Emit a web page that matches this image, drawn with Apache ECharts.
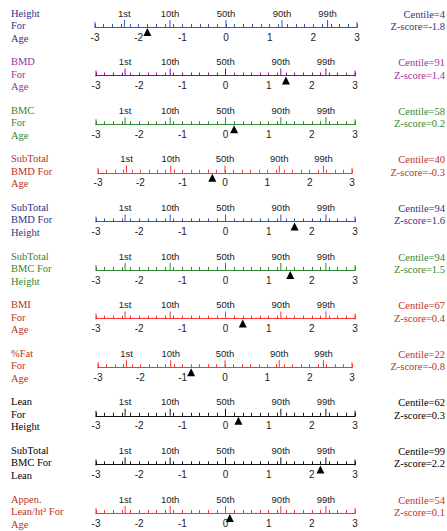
<!DOCTYPE html>
<html>
<head>
<meta charset="utf-8">
<script src="https://cdn.jsdelivr.net/npm/echarts@6/dist/echarts.min.js"></script>
<style>html,body{margin:0;padding:0;background:#fff}#c{width:447px;height:531px}</style>
</head>
<body>
<div id="c"></div>
<script>
// ---- data ----
const rowLabels = [
  'Height\nFor\nAge', 'BMD\nFor\nAge', 'BMC\nFor\nAge', 'SubTotal\nBMD For\nAge',
  'SubTotal\nBMD For\nHeight', 'SubTotal\nBMC For\nHeight', 'BMI\nFor\nAge', '%Fat\nFor\nAge',
  'Lean\nFor\nHeight', 'SubTotal\nBMC For\nLean', 'Appen.\nLean/ht\u00b2 For\nAge'
];
const centiles = [4, 91, 58, 40, 94, 94, 67, 22, 62, 99, 54];
const zScores = [-1.8, 1.4, 0.2, -0.3, 1.6, 1.5, 0.4, -0.8, 0.3, 2.2, 0.1];
const centileNames = ['1st', '10th', '50th', '90th', '99th'];
const centileZ = [-2.326, -1.282, 0, 1.282, 2.326];
const zMin = -3, zMax = 3, zStep = 1, zMinorStep = 0.2;
const endTicks = [-3, 3];

// ---- styles / layout ----
const BLUE = {axis: '#3355bb', text: '#333388'};
const PURPLE = {axis: '#990099', text: '#993399'};
const GREEN = {axis: '#338833', text: '#338833'};
const RED = {axis: '#ff3333', text: '#bb3322'};
const BLACK = {axis: '#111111', text: '#000000'};
const rowStyles = [BLUE, PURPLE, GREEN, RED, BLUE, GREEN, RED, RED, BLACK, BLACK, RED];
const rowInsets = [[95, 90], [96, 92], [96, 92], [98, 95], [96, 92], [96, 92], [96, 92], [98, 95], [96, 92], [96, 92], [96, 92]];
const firstAxisY = 27, rowGap = 48.6;

const grids = [], xAxes = [], yAxes = [], series = [], graphics = [];
rowLabels.forEach((lab, i) => {
  const y = firstAxisY + i * rowGap;
  const st = rowStyles[i];
  grids.push({left: rowInsets[i][0], right: rowInsets[i][1], top: y - 20, height: 20});
  // axis line with fine ticks
  xAxes.push({
    gridIndex: i, type: 'value', position: 'bottom', min: zMin, max: zMax, interval: zMinorStep,
    axisLine: {show: true, lineStyle: {color: st.axis, width: 1}},
    axisTick: {show: true, inside: true, length: 3, lineStyle: {color: st.axis}},
    axisLabel: {show: false}, splitLine: {show: false}
  });
  // axis carrying the z labels
  xAxes.push({
    gridIndex: i, type: 'value', position: 'bottom', min: zMin, max: zMax, interval: zStep,
    axisLine: {show: false}, axisTick: {show: false},
    axisLabel: {fontSize: 10, color: '#222', margin: 5, fontFamily: 'Liberation Sans'},
    splitLine: {show: false}
  });
  yAxes.push({gridIndex: i, type: 'value', min: 0, max: 1, show: false});
  const xi = 2 * i + 1;
  series.push({
    type: 'scatter', xAxisIndex: xi, yAxisIndex: i, clip: false, silent: true,
    symbol: 'rect', symbolSize: [1, 7], symbolOffset: [0, -3.5],
    itemStyle: {color: st.axis, opacity: 1},
    data: centileZ.map((z, k) => ({value: [z, 0], name: centileNames[k]})),
    label: {show: true, position: 'top', distance: 2, formatter: p => p.name,
            fontSize: 9.5, color: '#222', fontFamily: 'Liberation Sans'}
  });
  series.push({
    type: 'scatter', xAxisIndex: xi, yAxisIndex: i, clip: false, silent: true,
    symbol: 'rect', symbolSize: [1, 6], symbolOffset: [0, -2],
    itemStyle: {color: st.axis, opacity: 1},
    data: endTicks.map(z => [z, 0])
  });
  series.push({
    type: 'scatter', xAxisIndex: xi, yAxisIndex: i, clip: false, silent: true,
    symbol: 'triangle', symbolSize: [8, 8], symbolOffset: [0, 5],
    itemStyle: {color: '#000', opacity: 1}, z: 5,
    data: [[zScores[i], 0]]
  });
  graphics.push({
    type: 'text', left: 11, top: y - 20.25,
    style: {text: lab, fill: st.text, font: '10.5px "Liberation Serif"', lineHeight: 12.5}
  });
  graphics.push({
    type: 'text', right: 2, top: y - 19.25,
    style: {text: 'Centile=' + centiles[i] + '\nZ-score=' + zScores[i], fill: st.text,
            font: '10.5px "Liberation Serif"', lineHeight: 12.5, textAlign: 'right'}
  });
});

const chart = echarts.init(document.getElementById('c'), null, {renderer: 'svg'});
chart.setOption({
  animation: false,
  grid: grids, xAxis: xAxes, yAxis: yAxes, series: series, graphic: graphics
});
</script>
</body>
</html>
